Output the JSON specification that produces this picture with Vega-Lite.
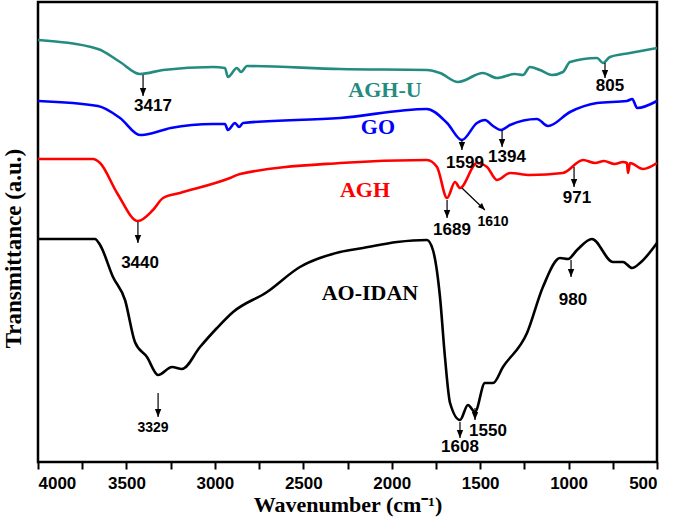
{
  "$schema": "https://vega.github.io/schema/vega-lite/v6.json",
  "width": 619,
  "height": 460,
  "autosize": {"type": "none"},
  "padding": {"left": 38, "top": 2, "right": 18, "bottom": 60},
  "background": "white",
  "config": {
    "view": {"stroke": "black", "strokeWidth": 2.5},
    "font": "Liberation Sans"
  },
  "datasets": {
    "spectra": [
      {"s": "AGH-U", "w": 4000, "t": 422}, {"s": "AGH-U", "w": 3661, "t": 413}, {"s": "AGH-U", "w": 3536, "t": 400},
      {"s": "AGH-U", "w": 3423, "t": 388}, {"s": "AGH-U", "w": 3293, "t": 392}, {"s": "AGH-U", "w": 3010, "t": 395},
      {"s": "AGH-U", "w": 2943, "t": 394}, {"s": "AGH-U", "w": 2926, "t": 385}, {"s": "AGH-U", "w": 2875, "t": 394},
      {"s": "AGH-U", "w": 2852, "t": 390}, {"s": "AGH-U", "w": 2818, "t": 396}, {"s": "AGH-U", "w": 2292, "t": 393},
      {"s": "AGH-U", "w": 1801, "t": 392}, {"s": "AGH-U", "w": 1727, "t": 389}, {"s": "AGH-U", "w": 1625, "t": 380},
      {"s": "AGH-U", "w": 1484, "t": 389}, {"s": "AGH-U", "w": 1405, "t": 384}, {"s": "AGH-U", "w": 1303, "t": 388},
      {"s": "AGH-U", "w": 1258, "t": 387}, {"s": "AGH-U", "w": 1218, "t": 395}, {"s": "AGH-U", "w": 1162, "t": 392},
      {"s": "AGH-U", "w": 1094, "t": 387}, {"s": "AGH-U", "w": 1032, "t": 390}, {"s": "AGH-U", "w": 992, "t": 400},
      {"s": "AGH-U", "w": 839, "t": 404}, {"s": "AGH-U", "w": 805, "t": 399}, {"s": "AGH-U", "w": 766, "t": 405},
      {"s": "AGH-U", "w": 653, "t": 409}, {"s": "AGH-U", "w": 500, "t": 414},

      {"s": "GO", "w": 4000, "t": 361}, {"s": "GO", "w": 3661, "t": 356}, {"s": "GO", "w": 3536, "t": 344},
      {"s": "GO", "w": 3423, "t": 327}, {"s": "GO", "w": 3350, "t": 329}, {"s": "GO", "w": 3250, "t": 334},
      {"s": "GO", "w": 3010, "t": 338}, {"s": "GO", "w": 2943, "t": 338}, {"s": "GO", "w": 2926, "t": 332},
      {"s": "GO", "w": 2886, "t": 339}, {"s": "GO", "w": 2863, "t": 335}, {"s": "GO", "w": 2840, "t": 339},
      {"s": "GO", "w": 2292, "t": 344}, {"s": "GO", "w": 1801, "t": 353}, {"s": "GO", "w": 1687, "t": 339},
      {"s": "GO", "w": 1603, "t": 322}, {"s": "GO", "w": 1518, "t": 339}, {"s": "GO", "w": 1473, "t": 342},
      {"s": "GO", "w": 1427, "t": 336}, {"s": "GO", "w": 1382, "t": 332}, {"s": "GO", "w": 1331, "t": 337},
      {"s": "GO", "w": 1179, "t": 343}, {"s": "GO", "w": 1116, "t": 336}, {"s": "GO", "w": 992, "t": 350},
      {"s": "GO", "w": 839, "t": 359}, {"s": "GO", "w": 670, "t": 361}, {"s": "GO", "w": 640, "t": 363},
      {"s": "GO", "w": 612, "t": 354}, {"s": "GO", "w": 500, "t": 361},

      {"s": "AGH", "w": 4000, "t": 303}, {"s": "AGH", "w": 3689, "t": 303}, {"s": "AGH", "w": 3649, "t": 299},
      {"s": "AGH", "w": 3553, "t": 269}, {"s": "AGH", "w": 3435, "t": 241}, {"s": "AGH", "w": 3350, "t": 252},
      {"s": "AGH", "w": 3293, "t": 264}, {"s": "AGH", "w": 3197, "t": 269}, {"s": "AGH", "w": 2914, "t": 284},
      {"s": "AGH", "w": 2858, "t": 288}, {"s": "AGH", "w": 2292, "t": 299}, {"s": "AGH", "w": 1801, "t": 302},
      {"s": "AGH", "w": 1744, "t": 295}, {"s": "AGH", "w": 1687, "t": 264}, {"s": "AGH", "w": 1642, "t": 280},
      {"s": "AGH", "w": 1614, "t": 274}, {"s": "AGH", "w": 1518, "t": 299}, {"s": "AGH", "w": 1461, "t": 295},
      {"s": "AGH", "w": 1405, "t": 282}, {"s": "AGH", "w": 1331, "t": 289}, {"s": "AGH", "w": 1218, "t": 287},
      {"s": "AGH", "w": 1032, "t": 289}, {"s": "AGH", "w": 918, "t": 302}, {"s": "AGH", "w": 850, "t": 299},
      {"s": "AGH", "w": 800, "t": 301}, {"s": "AGH", "w": 740, "t": 298}, {"s": "AGH", "w": 692, "t": 300},
      {"s": "AGH", "w": 670, "t": 299}, {"s": "AGH", "w": 664, "t": 289},
      {"s": "AGH", "w": 653, "t": 299}, {"s": "AGH", "w": 579, "t": 293}, {"s": "AGH", "w": 500, "t": 299},

      {"s": "AO-IDAN", "w": 4000, "t": 223}, {"s": "AO-IDAN", "w": 3678, "t": 223}, {"s": "AO-IDAN", "w": 3649, "t": 217},
      {"s": "AO-IDAN", "w": 3576, "t": 185}, {"s": "AO-IDAN", "w": 3508, "t": 162}, {"s": "AO-IDAN", "w": 3452, "t": 120},
      {"s": "AO-IDAN", "w": 3384, "t": 105}, {"s": "AO-IDAN", "w": 3321, "t": 87}, {"s": "AO-IDAN", "w": 3242, "t": 95},
      {"s": "AO-IDAN", "w": 3186, "t": 93}, {"s": "AO-IDAN", "w": 3084, "t": 115}, {"s": "AO-IDAN", "w": 2988, "t": 134},
      {"s": "AO-IDAN", "w": 2897, "t": 150}, {"s": "AO-IDAN", "w": 2705, "t": 170}, {"s": "AO-IDAN", "w": 2519, "t": 195},
      {"s": "AO-IDAN", "w": 2292, "t": 210}, {"s": "AO-IDAN", "w": 2162, "t": 214}, {"s": "AO-IDAN", "w": 1970, "t": 220},
      {"s": "AO-IDAN", "w": 1801, "t": 222}, {"s": "AO-IDAN", "w": 1767, "t": 212}, {"s": "AO-IDAN", "w": 1727, "t": 165},
      {"s": "AO-IDAN", "w": 1699, "t": 105}, {"s": "AO-IDAN", "w": 1670, "t": 59}, {"s": "AO-IDAN", "w": 1614, "t": 42},
      {"s": "AO-IDAN", "w": 1569, "t": 57}, {"s": "AO-IDAN", "w": 1529, "t": 50}, {"s": "AO-IDAN", "w": 1473, "t": 79},
      {"s": "AO-IDAN", "w": 1427, "t": 79}, {"s": "AO-IDAN", "w": 1371, "t": 95}, {"s": "AO-IDAN", "w": 1235, "t": 129},
      {"s": "AO-IDAN", "w": 1145, "t": 175}, {"s": "AO-IDAN", "w": 1048, "t": 204}, {"s": "AO-IDAN", "w": 1003, "t": 203},
      {"s": "AO-IDAN", "w": 952, "t": 212}, {"s": "AO-IDAN", "w": 868, "t": 223}, {"s": "AO-IDAN", "w": 749, "t": 200},
      {"s": "AO-IDAN", "w": 692, "t": 200}, {"s": "AO-IDAN", "w": 641, "t": 194}, {"s": "AO-IDAN", "w": 596, "t": 199},
      {"s": "AO-IDAN", "w": 500, "t": 219}
    ],
    "names": [
      {"s": "AGH-U", "w": 2038, "t": 372},
      {"s": "GO", "w": 2078, "t": 335},
      {"s": "AGH", "w": 2151, "t": 272},
      {"s": "AO-IDAN", "w": 2123, "t": 169}
    ],
    "peaks": [
      {"label": "3417", "w": 3350, "t": 356},
      {"label": "1599", "w": 1586, "t": 299},
      {"label": "1394", "w": 1348, "t": 305},
      {"label": "805", "w": 766, "t": 376},
      {"label": "1689", "w": 1659, "t": 232},
      {"label": "1610", "w": 1427, "t": 240},
      {"label": "971", "w": 952, "t": 264},
      {"label": "3440", "w": 3423, "t": 199},
      {"label": "3329", "w": 3350, "t": 34},
      {"label": "1608", "w": 1614, "t": 15},
      {"label": "1550", "w": 1456, "t": 31},
      {"label": "980", "w": 975, "t": 162}
    ],
    "arrows": [
      {"label": "3417", "x1": 3406, "y1": 387, "x2": 3406, "y2": 366},
      {"label": "1599", "x1": 1603, "y1": 322, "x2": 1603, "y2": 312},
      {"label": "1394", "x1": 1376, "y1": 332, "x2": 1376, "y2": 315},
      {"label": "805", "x1": 794, "y1": 399, "x2": 794, "y2": 384},
      {"label": "1689", "x1": 1687, "y1": 262, "x2": 1687, "y2": 244},
      {"label": "1610", "x1": 1603, "y1": 274, "x2": 1473, "y2": 252},
      {"label": "971", "x1": 969, "y1": 295, "x2": 969, "y2": 275},
      {"label": "3440", "x1": 3435, "y1": 240, "x2": 3435, "y2": 219},
      {"label": "3329", "x1": 3321, "y1": 69, "x2": 3321, "y2": 45},
      {"label": "1608", "x1": 1614, "y1": 40, "x2": 1614, "y2": 24},
      {"label": "1550", "x1": 1529, "y1": 54, "x2": 1529, "y2": 42},
      {"label": "980", "x1": 986, "y1": 202, "x2": 986, "y2": 185}
    ]
  },
  "layer": [
    {
      "data": {"name": "spectra"},
      "mark": {"type": "line", "strokeWidth": 2.6, "interpolate": "monotone"},
      "encoding": {
        "x": {
          "field": "w", "type": "quantitative",
          "scale": {"domain": [4000, 500], "nice": false},
          "axis": {
            "title": "Wavenumber (cm⁻¹)",
            "values": [4000, 3750, 3500, 3250, 3000, 2750, 2500, 2250, 2000, 1750, 1500, 1250, 1000, 750, 500],
            "format": "d",
            "labelExpr": "datum.value % 500 === 0 ? datum.label : ''",
            "labelFont": "Liberation Sans", "labelFontSize": 17, "labelFontWeight": "bold", "labelColor": "black",
            "labelPadding": 6, "labelOverlap": false,
            "titleFont": "Liberation Serif", "titleFontSize": 22, "titleFontWeight": "bold", "titleColor": "black",
            "titlePadding": 3,
            "tickSize": 7, "tickWidth": 2, "tickColor": "black",
            "domain": false, "grid": false
          }
        },
        "y": {
          "field": "t", "type": "quantitative",
          "scale": {"domain": [0, 460], "nice": false},
          "axis": {
            "title": "Transmittance (a.u.)",
            "titleFont": "Liberation Serif", "titleFontSize": 23, "titleFontWeight": "bold", "titleColor": "black",
            "titlePadding": 13, "titleY": 246,
            "labels": false, "ticks": false, "domain": false, "grid": false
          }
        },
        "color": {
          "field": "s", "type": "nominal",
          "scale": {"domain": ["AGH-U", "GO", "AGH", "AO-IDAN"], "range": ["#238b80", "#0000ff", "#ff0000", "#000000"]},
          "legend": null
        },
        "detail": {"field": "s"}
      }
    },
    {
      "data": {"name": "names"},
      "mark": {"type": "text", "font": "Liberation Serif", "fontSize": 22, "fontWeight": "bold", "align": "center", "baseline": "middle"},
      "encoding": {
        "x": {"field": "w", "type": "quantitative"},
        "y": {"field": "t", "type": "quantitative"},
        "text": {"field": "s"},
        "color": {"field": "s", "type": "nominal", "legend": null}
      }
    },
    {
      "data": {"name": "arrows"},
      "mark": {"type": "rule", "color": "black", "strokeWidth": 1.2},
      "encoding": {
        "x": {"field": "x1", "type": "quantitative"},
        "y": {"field": "y1", "type": "quantitative"},
        "x2": {"field": "x2"},
        "y2": {"field": "y2"}
      }
    },
    {
      "data": {"name": "arrows"},
      "transform": [{"filter": "datum.label !== '1610'"}],
      "mark": {"type": "point", "shape": "M-0.4,-1L0.4,-1L0,0Z", "filled": true, "color": "black", "opacity": 1, "size": 256},
      "encoding": {
        "x": {"field": "x2", "type": "quantitative"},
        "y": {"field": "y2", "type": "quantitative"}
      }
    },
    {
      "data": {"name": "arrows"},
      "transform": [{"filter": "datum.label === '1610'"}],
      "mark": {"type": "point", "shape": "M-0.4,-1L0.4,-1L0,0Z", "filled": true, "color": "black", "opacity": 1, "size": 200, "angle": -44},
      "encoding": {
        "x": {"field": "x2", "type": "quantitative"},
        "y": {"field": "y2", "type": "quantitative"}
      }
    },
    {
      "data": {"name": "peaks"},
      "transform": [{"filter": "datum.label !== '1610' && datum.label !== '3329'"}],
      "mark": {"type": "text", "font": "Liberation Sans", "fontSize": 17, "fontWeight": "bold", "color": "black", "align": "center", "baseline": "middle"},
      "encoding": {
        "x": {"field": "w", "type": "quantitative"},
        "y": {"field": "t", "type": "quantitative"},
        "text": {"field": "label"}
      }
    },
    {
      "data": {"name": "peaks"},
      "transform": [{"filter": "datum.label === '1610' || datum.label === '3329'"}],
      "mark": {"type": "text", "font": "Liberation Sans", "fontSize": 14, "fontWeight": "bold", "color": "black", "align": "center", "baseline": "middle"},
      "encoding": {
        "x": {"field": "w", "type": "quantitative"},
        "y": {"field": "t", "type": "quantitative"},
        "text": {"field": "label"}
      }
    }
  ]
}
